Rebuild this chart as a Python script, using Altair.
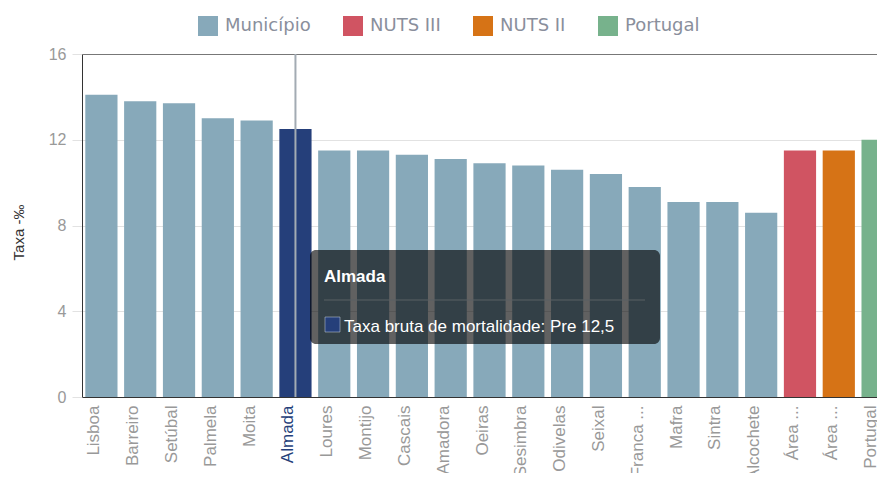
import json
import altair as alt
import pandas as pd

names = ["Lisboa", "Barreiro", "Setúbal", "Palmela", "Moita", "Almada", "Loures",
         "Montijo", "Cascais", "Amadora", "Oeiras", "Sesimbra", "Odivelas", "Seixal",
         "Vila Franca de Xira", "Mafra", "Sintra", "Alcochete",
         "Área Metropolitana de Lisboa", "Área Metropolitana de Lisboa (NUTS II)", "Portugal"]
tick_labels = ["Lisboa", "Barreiro", "Setúbal", "Palmela", "Moita", "Almada", "Loures",
               "Montijo", "Cascais", "Amadora", "Oeiras", "Sesimbra", "Odivelas", "Seixal",
               "Vila Franca ...", "Mafra", "Sintra", "Alcochete", "Área ...", "Área ...", "Portugal"]
values = [14.1, 13.8, 13.7, 13.0, 12.9, 12.5, 11.5, 11.5, 11.3, 11.1, 10.9, 10.8, 10.6,
          10.4, 9.8, 9.1, 9.1, 8.6, 11.5, 11.5, 12.0]
groups = ["Município"] * 18 + ["NUTS III", "NUTS II", "Portugal"]
group_names = ["Município", "NUTS III", "NUTS II", "Portugal"]
group_colors = ["#87a9ba", "#d05462", "#d67316", "#77b28c"]
highlight = "Almada"
highlight_color = "#253f7a"
series_label = "Taxa bruta de mortalidade: Pre"
y_ticks = [0, 4, 8, 12, 16]

df = pd.DataFrame({"name": names, "value": values, "group": groups})
hl_value = values[names.index(highlight)]
tip = pd.DataFrame({
    "title": [highlight],
    "line": [f"{series_label} {str(hl_value).replace('.', ',')}"],
})

label_expr = ("[" + ",".join(json.dumps(l, ensure_ascii=False) for l in tick_labels) +
              "][indexof([" + ",".join(json.dumps(n, ensure_ascii=False) for n in names) +
              "], datum.value)]")

x_enc = alt.X("name:N", sort=names, title=None,
              scale=alt.Scale(paddingInner=0.17, paddingOuter=0.085, range=[0, 815]),
              axis=alt.Axis(labelAngle=-90, labelAlign="right", labelBaseline="middle",
                            labelPadding=8, ticks=False, domainColor="#333",
                            labelFont="Liberation Sans", labelFontSize=17,
                            labelOffset=-7, labelExpr=label_expr,
                            labelColor=alt.condition(f"datum.value == '{highlight}'",
                                                     alt.value(highlight_color),
                                                     alt.value("#999999"))))
y_scale = alt.Scale(domain=[0, 16], nice=False)

bars = alt.Chart(df).mark_bar().encode(
    x=x_enc,
    y=alt.Y("value:Q", scale=y_scale, title="Taxa -‰",
            axis=alt.Axis(values=y_ticks,
                          gridColor=alt.condition("datum.value == 16", alt.value("#777777"),
                                                  alt.value("#e2e2e2")),
                          tickColor="#e2e2e2",
                          tickSize=10, labelPadding=6, domainColor="#333",
                          labelFont="Liberation Sans", labelFontSize=16,
                          labelColor="#999999", titleFont="Liberation Sans",
                          titleFontSize=15, titleFontWeight="normal", titleColor="#333333",
                          titleX=-64, titleY=178, titleBaseline="middle")),
    color=alt.condition(f"datum.name == '{highlight}'", alt.value(highlight_color),
                        alt.Color("group:N", scale=alt.Scale(domain=group_names, range=group_colors),
                                  title=None,
                                  legend=alt.Legend(orient="none", direction="horizontal",
                                                    legendX=116, legendY=-38,
                                                    symbolType="square", symbolSize=400,
                                                    symbolStrokeWidth=0, labelOffset=7,
                                                    columnPadding=32, labelFont="DejaVu Sans",
                                                    labelFontSize=18, labelColor="#8a8f9c",
                                                    padding=0))),
)

cross = alt.Chart(df).transform_filter(f"datum.name == '{highlight}'").mark_rule(
    color="#a3abb3", strokeWidth=2
).encode(x=alt.X("name:N", sort=names), y=alt.datum(16), y2=alt.datum(0))

box = alt.Chart(tip).mark_rect(color="black", opacity=0.62, cornerRadius=6).encode(
    x=alt.value(228), x2=alt.value(578), y=alt.value(196), y2=alt.value(290))
title_t = alt.Chart(tip).mark_text(align="left", baseline="alphabetic", color="white",
                                   font="Liberation Sans", fontSize=17, fontWeight="bold").encode(
    x=alt.value(242), y=alt.value(228), text="title:N")
sep = alt.Chart(tip).mark_rule(color="#5a6064", strokeWidth=1).encode(
    x=alt.value(242), x2=alt.value(563), y=alt.value(246))
swatch = alt.Chart(tip).mark_rect(color=highlight_color, stroke="#cfd6e0", strokeWidth=0.5).encode(
    x=alt.value(243), x2=alt.value(258), y=alt.value(263), y2=alt.value(278))
line_t = alt.Chart(tip).mark_text(align="left", baseline="alphabetic", color="white",
                                  font="Liberation Sans", fontSize=17).encode(
    x=alt.value(262), y=alt.value(278), text="line:N")

chart = alt.layer(bars, cross, box, title_t, sep, swatch, line_t).properties(
    width=795, height=343,
    autosize=alt.AutoSizeParams(type="none"),
    padding={"left": 74, "top": 46, "right": 0, "bottom": 76},
).configure_view(stroke=None)

chart.save("out.html", embed_options={"renderer": "svg", "actions": False})
